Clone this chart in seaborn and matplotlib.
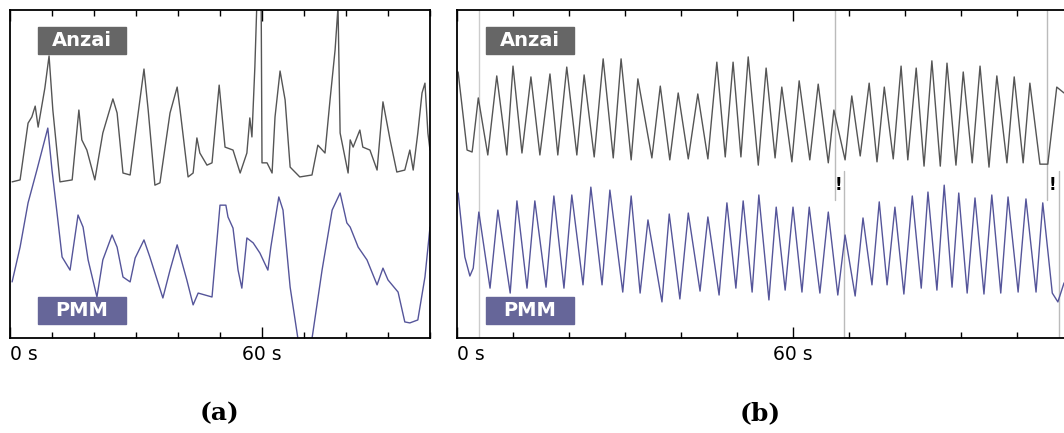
import numpy as np
import pandas as pd
import seaborn as sns
import matplotlib.pyplot as plt
from matplotlib.patches import Rectangle
from matplotlib.ticker import MultipleLocator

# Panel (a): time in s, signal in arbitrary units (0-100 = visible range)
a_anzai_t = [0.5, 2.4, 4.3, 5.2, 6.0, 6.7, 8.3, 9.3, 10.2, 11.9, 14.8, 16.4, 17.1, 18.3, 20.2,
             22.1, 24.5, 25.5, 26.9, 28.6, 30.2, 31.9, 32.9, 34.5, 35.7, 38.1, 39.8, 40.5,
             42.4, 43.6, 44.5, 45.2, 46.9, 48.1, 49.8, 51.2, 53.1, 54.8, 56.4, 57.1, 57.6,
             58.3, 58.8, 59.3, 59.8, 60.0, 61.2, 62.4, 63.1, 64.3, 65.5, 66.7, 69.0, 71.9,
             73.3, 75.0, 76.2, 77.4, 78.1, 78.6, 80.5, 81.0, 81.7, 83.3, 84.0, 85.7, 87.4,
             88.8, 90.5, 92.1, 94.0, 95.2, 96.0, 97.1, 98.1, 98.8, 99.5, 100.0]
a_anzai_v = [47.6, 48.2, 65.5, 67.4, 70.7, 64.3, 76.2, 86.0, 69.5, 47.6, 48.2, 69.5, 60.4, 57.3, 48.2,
             62.5, 72.9, 68.6, 50.3, 49.7, 65.5, 82.0, 69.5, 46.6, 47.3, 68.6, 76.5, 69.5,
             49.1, 50.3, 61.0, 56.4, 52.7, 53.4, 77.1, 58.2, 57.3, 50.3, 56.4, 67.1, 61.3,
             82.6, 103.0, 101.0, 103.0, 53.4, 53.4, 50.3, 67.4, 81.4, 72.6, 52.1, 49.1, 49.7,
             58.8, 56.4, 72.6, 87.8, 101.0, 62.5, 50.3, 60.4, 58.2, 63.4, 58.2, 57.3, 51.2,
             72.0, 60.4, 50.6, 51.2, 57.3, 51.2, 62.5, 74.7, 77.7, 62.5, 57.3]

a_pmm_t = [0.5, 2.4, 4.3, 6.4, 9.0, 10.0, 11.2, 12.4, 14.3, 16.2, 17.4, 18.6, 20.7, 22.1, 24.3,
           25.5, 26.9, 28.6, 29.8, 31.9, 33.3, 36.4, 38.1, 39.8, 42.1, 43.6, 44.8, 48.1,
           50.0, 51.4, 51.9, 53.1, 54.3, 55.2, 56.4, 57.9, 59.5, 61.4, 62.1, 64.0, 65.0,
           66.7, 68.6, 69.8, 71.4, 72.1, 74.3, 76.7, 78.6, 80.2, 81.0, 82.9, 85.0, 87.4,
           88.8, 90.0, 92.4, 94.0, 95.2, 97.1, 98.8, 100.0]
a_pmm_v = [17.1, 27.7, 41.2, 51.2, 64.0, 51.2, 38.1, 24.7, 20.7, 37.5, 33.8, 23.8, 12.5, 23.8, 31.4,
           27.7, 18.6, 17.1, 24.4, 29.9, 24.7, 12.2, 20.7, 28.4, 17.7, 10.1, 13.7, 12.5,
           40.5, 40.5, 36.9, 33.5, 20.7, 15.2, 30.5, 29.0, 25.9, 20.7, 27.7, 43.0, 39.0,
           15.5, -0.6, -4.3, -4.3, 1.5, 20.7, 39.0, 44.2, 35.1, 33.8, 27.7, 23.8, 16.2,
           21.3, 17.7, 14.0, 4.9, 4.6, 5.5, 18.6, 33.8]

# Panel (b)
b_anzai_t = [0.2, 1.8, 2.7, 3.8, 5.5, 7.1, 8.9, 10.0, 11.6, 13.2, 14.8, 16.6, 18.0, 19.6, 21.4,
             22.7, 24.5, 26.1, 27.9, 29.3, 31.1, 32.3, 34.8, 36.3, 38.0, 39.5, 41.3, 43.0,
             44.8, 46.4, 47.9, 49.3, 50.7, 52.0, 53.8, 55.2, 56.8, 58.0, 59.8, 61.1, 63.0,
             64.5, 66.3, 67.3, 69.3, 70.5, 72.0, 73.6, 75.0, 76.3, 77.9, 79.3, 80.5, 82.0,
             83.4, 84.8, 86.3, 87.5, 89.1, 90.4, 92.0, 93.4, 95.0, 96.4, 98.2, 99.5, 101.1,
             102.3, 104.1, 105.5, 107.1, 108.4]
b_anzai_v = [81.1, 57.3, 56.7, 73.2, 55.8, 79.9, 55.8, 82.9, 56.4, 79.6, 55.8, 80.5, 55.8, 82.6, 55.8,
             80.2, 55.2, 85.1, 54.9, 85.1, 54.3, 79.0, 54.9, 76.8, 54.3, 74.7, 54.6, 74.4,
             54.6, 84.1, 55.2, 84.1, 55.2, 85.7, 52.7, 82.3, 54.9, 76.5, 53.7, 78.4, 54.3,
             77.4, 53.4, 69.5, 54.3, 73.8, 55.5, 77.7, 53.7, 76.5, 54.6, 82.9, 54.3, 82.3,
             52.4, 84.5, 52.4, 83.8, 52.7, 81.1, 53.4, 82.9, 52.1, 79.9, 53.4, 79.6, 53.4,
             77.7, 53.0, 53.0, 76.5, 74.7]

b_pmm_t = [0.2, 1.4, 2.3, 2.9, 3.9, 5.9, 7.3, 9.5, 10.7, 12.5, 13.9, 15.9, 17.3, 19.1, 20.5,
           22.5, 23.9, 25.9, 27.3, 29.6, 31.1, 32.7, 34.1, 36.6, 37.9, 39.8, 41.3, 43.4,
           44.8, 46.8, 48.2, 49.8, 51.1, 52.7, 53.9, 55.7, 57.0, 58.6, 60.0, 61.6, 62.9,
           64.8, 66.3, 68.0, 69.3, 71.1, 72.5, 74.1, 75.4, 76.8, 78.2, 79.8, 81.3, 82.9,
           84.1, 85.7, 87.0, 88.4, 89.6, 91.1, 92.5, 94.1, 95.5, 97.1, 98.4, 100.2, 101.6,
           103.4, 104.6, 106.3, 107.3, 108.4]
b_pmm_v = [44.2, 24.7, 18.9, 21.3, 38.4, 15.2, 39.0, 13.7, 41.8, 15.2, 41.8, 15.5, 43.3, 15.2, 43.6,
           16.2, 46.0, 16.2, 45.1, 14.0, 43.3, 13.7, 36.0, 11.0, 37.8, 11.9, 38.1, 14.3,
           36.9, 13.1, 41.2, 15.2, 41.8, 14.0, 43.6, 11.6, 39.9, 14.6, 39.9, 14.0, 39.9,
           13.7, 38.4, 13.1, 31.4, 12.8, 36.6, 16.2, 41.5, 16.2, 39.9, 13.4, 43.3, 15.2,
           44.5, 14.6, 46.6, 15.5, 44.2, 13.7, 42.7, 13.4, 43.6, 13.7, 43.0, 14.0, 42.4,
           14.0, 41.2, 13.7, 11.0, 16.8]

# Panel (b) markers: full-height line, Anzai lines, PMM lines, "!" positions
b_full_line = 3.9
b_anzai_marks = [67.5, 105.4]
b_pmm_marks = [69.1, 107.5]
b_bang = [68.2, 106.4]

tick_labels = ["0 s", "60 s"]
captions = ["(a)", "(b)"]
names = ["Anzai", "PMM"]

ANZAI_C = "#555555"
PMM_C = "#55559a"

sns.set_style("white")
plt.rcParams["font.family"] = ["DejaVu Sans"]
plt.rcParams["text.color"] = "black"
plt.rcParams["xtick.color"] = "black"
plt.rcParams["xtick.labelcolor"] = "black"

W, H = 1064, 433
fig = plt.figure(figsize=(W / 100, H / 100), dpi=100)

def px_axes(x0, x1, y0, y1):
    return fig.add_axes([x0 / W, (H - y1) / H, (x1 - x0) / W, (y1 - y0) / H])

ax_a = px_axes(10, 430, 10, 338)
ax_b = px_axes(457, 1072, 10, 338)
ax_a.set_xlim(0, 100)
ax_b.set_xlim(0, (1072 - 457) / 5.6)

panels = [(ax_a, a_anzai_t, a_anzai_v, a_pmm_t, a_pmm_v),
          (ax_b, b_anzai_t, b_anzai_v, b_pmm_t, b_pmm_v)]

for ax, at, av, pt, pv in panels:
    sns.lineplot(x=at, y=av, ax=ax, color=ANZAI_C, lw=1.0, estimator=None, sort=False)
    sns.lineplot(x=pt, y=pv, ax=ax, color=PMM_C, lw=1.0, estimator=None, sort=False)
    ax.set_ylim(0, 100)
    ax.set_yticks([])
    ax.xaxis.set_major_locator(MultipleLocator(60))
    ax.xaxis.set_minor_locator(MultipleLocator(10))
    ax.tick_params(axis="x", which="both", direction="in", top=True, bottom=True,
                   color="black", width=1)
    ax.tick_params(axis="x", which="major", length=8, labelsize=13.5, pad=5,
                   labelcolor="black")
    ax.tick_params(axis="x", which="minor", length=4)
    ax.set_xticks([0, 60])
    ax.set_xticklabels(tick_labels)
    ax.get_xticklabels()[0].set_horizontalalignment("left")
    for s in ax.spines.values():
        s.set_color("black")
        s.set_linewidth(1.3)

# grey marker lines in panel (b)
ax_b.axvline(b_full_line, color="#cccccc", lw=1, zorder=0)
for t in b_anzai_marks:
    ax_b.plot([t, t], [42, 100], color="#bbbbbb", lw=1, zorder=0)
for t in b_pmm_marks:
    ax_b.plot([t, t], [0, 51], color="#bbbbbb", lw=1, zorder=0)
for t in b_bang:
    ax_b.text(t, 46.6, "!", ha="center", va="center", fontsize=12, fontweight="bold", color="black")

# name boxes
for x0 in [38, 486]:
    for (y0, name, c) in [(27, names[0], "#666666"), (297, names[1], "#666699")]:
        fig.patches.append(Rectangle((x0 / W, (H - y0 - 27) / H), 88 / W, 27 / H,
                                     transform=fig.transFigure, color=c, zorder=5))
        fig.text((x0 + 44) / W, (H - y0 - 13.5) / H, name, ha="center", va="center",
                 color="white", fontsize=14, fontweight="bold", zorder=6)

# captions
fig.text(220 / W, (H - 413) / H, captions[0], ha="center", va="center",
         fontsize=18, fontweight="bold", family="DejaVu Serif", color="black")
fig.text(760 / W, (H - 413) / H, captions[1], ha="center", va="center",
         fontsize=18, fontweight="bold", family="DejaVu Serif", color="black")

fig.savefig("out.png", dpi=100)
